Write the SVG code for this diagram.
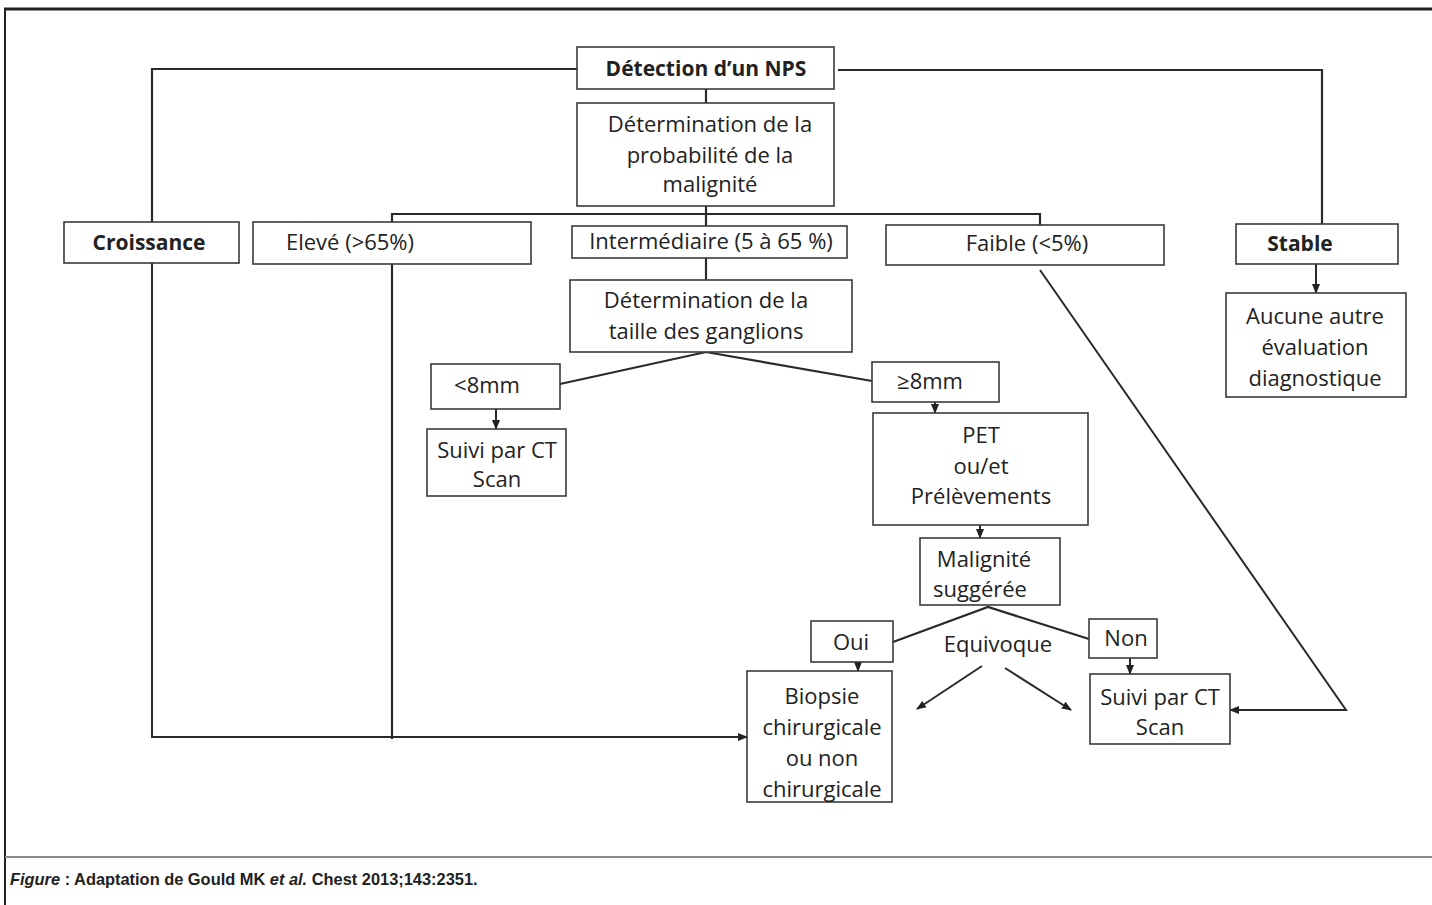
<svg xmlns="http://www.w3.org/2000/svg" width="1432" height="905" viewBox="0 0 1432 905">
<style>
.box{fill:#fff;stroke:#3a3a3a;stroke-width:1.6}
.t{font-family:"Open Sans","Liberation Sans",sans-serif;font-size:22px;fill:#222;text-anchor:middle}
.b{font-weight:bold;font-size:21px}
.ln{fill:none;stroke:#2a2a2a;stroke-width:2.2}
.ar{fill:none;stroke:#2a2a2a;stroke-width:2;marker-end:url(#ah)}
.cap{font-family:"Liberation Sans",Arial,sans-serif;font-size:16.4px;font-weight:bold;fill:#222}
.it{font-style:italic}
</style>
<defs>
<marker id="ah" markerUnits="userSpaceOnUse" markerWidth="10" markerHeight="10" viewBox="0 0 10 10" refX="9" refY="5" orient="auto">
<path d="M0,1 L10,5 L0,9 z" fill="#222"/>
</marker>
</defs>
<rect width="1432" height="905" fill="#fff"/>
<g id="frame">
<line x1="4" y1="9" x2="1432" y2="9" stroke="#222" stroke-width="3"/>
<line x1="5" y1="8" x2="5" y2="905" stroke="#222" stroke-width="2"/>
<line x1="5" y1="857" x2="1432" y2="857" stroke="#8a8a8a" stroke-width="2"/>
</g>
<g id="connectors">
<polyline class="ln" points="577,69 152,69 152,222"/>
<polyline class="ln" points="838,70 1322,70 1322,224"/>
<line class="ln" x1="706" y1="89" x2="706" y2="103"/>
<line class="ln" x1="706" y1="206" x2="706" y2="226"/>
<polyline class="ln" points="392,222 392,214 1040,214 1040,225"/>
<line class="ln" x1="706" y1="258" x2="706" y2="280"/>
<polyline class="ln" points="560,384 706,352 872,381"/>
<line class="ar" x1="496" y1="409" x2="496" y2="429"/>
<line class="ar" x1="935" y1="402" x2="935" y2="413"/>
<line class="ar" x1="980" y1="525" x2="980" y2="538"/>
<polyline class="ln" points="893,642 988,607 1089,639"/>
<line class="ar" x1="982" y1="666" x2="917" y2="709"/>
<line class="ar" x1="1005" y1="668" x2="1071" y2="710"/>
<line class="ar" x1="858" y1="662" x2="858" y2="671"/>
<line class="ar" x1="1130" y1="658" x2="1130" y2="674"/>
<polyline class="ar" points="152,263 152,737 747,737"/>
<line class="ln" x1="392" y1="264" x2="392" y2="739"/>
<polyline class="ar" points="1040,270 1346,710 1230,710"/>
<line class="ar" x1="1316" y1="264" x2="1316" y2="293"/>
</g>
<g id="n-detection">
<rect class="box" x="577" y="47" width="257" height="42"/>
<text class="t b" x="706" y="76">Détection d’un NPS</text>
</g>
<g id="n-probabilite">
<rect class="box" x="577" y="103" width="257" height="103"/>
<text class="t" x="710" y="132">Détermination de la</text>
<text class="t" x="710" y="163">probabilité de la</text>
<text class="t" x="710" y="192">malignité</text>
</g>
<g id="n-croissance">
<rect class="box" x="64" y="222" width="175" height="41"/>
<text class="t b" x="149" y="250">Croissance</text>
</g>
<g id="n-eleve">
<rect class="box" x="253" y="222" width="278" height="42"/>
<text class="t" x="350" y="250">Elevé (&gt;65%)</text>
</g>
<g id="n-intermediaire">
<rect class="box" x="572" y="226" width="275" height="32"/>
<text class="t" x="711" y="249">Intermédiaire (5 à 65 %)</text>
</g>
<g id="n-faible">
<rect class="box" x="886" y="225" width="278" height="40"/>
<text class="t" x="1027" y="251">Faible (&lt;5%)</text>
</g>
<g id="n-stable">
<rect class="box" x="1236" y="224" width="162" height="40"/>
<text class="t b" x="1300" y="251">Stable</text>
</g>
<g id="n-aucune">
<rect class="box" x="1226" y="293" width="180" height="104"/>
<text class="t" x="1315" y="324">Aucune autre</text>
<text class="t" x="1315" y="355">évaluation</text>
<text class="t" x="1315" y="386">diagnostique</text>
</g>
<g id="n-ganglions">
<rect class="box" x="570" y="280" width="282" height="72"/>
<text class="t" x="706" y="308">Détermination de la</text>
<text class="t" x="706" y="339">taille des ganglions</text>
</g>
<g id="n-inf8">
<rect class="box" x="431" y="364" width="129" height="45"/>
<text class="t" x="487" y="393">&lt;8mm</text>
</g>
<g id="n-sup8">
<rect class="box" x="872" y="362" width="127" height="40"/>
<text class="t" x="930" y="389">≥8mm</text>
</g>
<g id="n-suivi1">
<rect class="box" x="427" y="429" width="139" height="67"/>
<text class="t" x="497" y="458">Suivi par CT</text>
<text class="t" x="497" y="487">Scan</text>
</g>
<g id="n-pet">
<rect class="box" x="873" y="413" width="215" height="112"/>
<text class="t" x="981" y="443">PET</text>
<text class="t" x="981" y="474">ou/et</text>
<text class="t" x="981" y="504">Prélèvements</text>
</g>
<g id="n-malignite">
<rect class="box" x="920" y="538" width="140" height="67"/>
<text class="t" x="984" y="567">Malignité</text>
<text class="t" x="980" y="597">suggérée</text>
</g>
<g id="n-oui">
<rect class="box" x="811" y="621" width="82" height="41"/>
<text class="t" x="851" y="650">Oui</text>
</g>
<g id="n-non">
<rect class="box" x="1089" y="619" width="68" height="39"/>
<text class="t" x="1126" y="646">Non</text>
</g>
<g id="n-equivoque">
<text class="t" x="998" y="652">Equivoque</text>
</g>
<g id="n-biopsie">
<rect class="box" x="747" y="671" width="145" height="131"/>
<text class="t" x="822" y="704">Biopsie</text>
<text class="t" x="822" y="735">chirurgicale</text>
<text class="t" x="822" y="766">ou non</text>
<text class="t" x="822" y="797">chirurgicale</text>
</g>
<g id="n-suivi2">
<rect class="box" x="1090" y="674" width="140" height="70"/>
<text class="t" x="1160" y="705">Suivi par CT</text>
<text class="t" x="1160" y="735">Scan</text>
</g>
<g id="caption">
<text class="cap" x="10" y="885"><tspan class="it">Figure</tspan> : Adaptation de Gould MK <tspan class="it">et al.</tspan> Chest 2013;143:2351.</text>
</g>
</svg>
